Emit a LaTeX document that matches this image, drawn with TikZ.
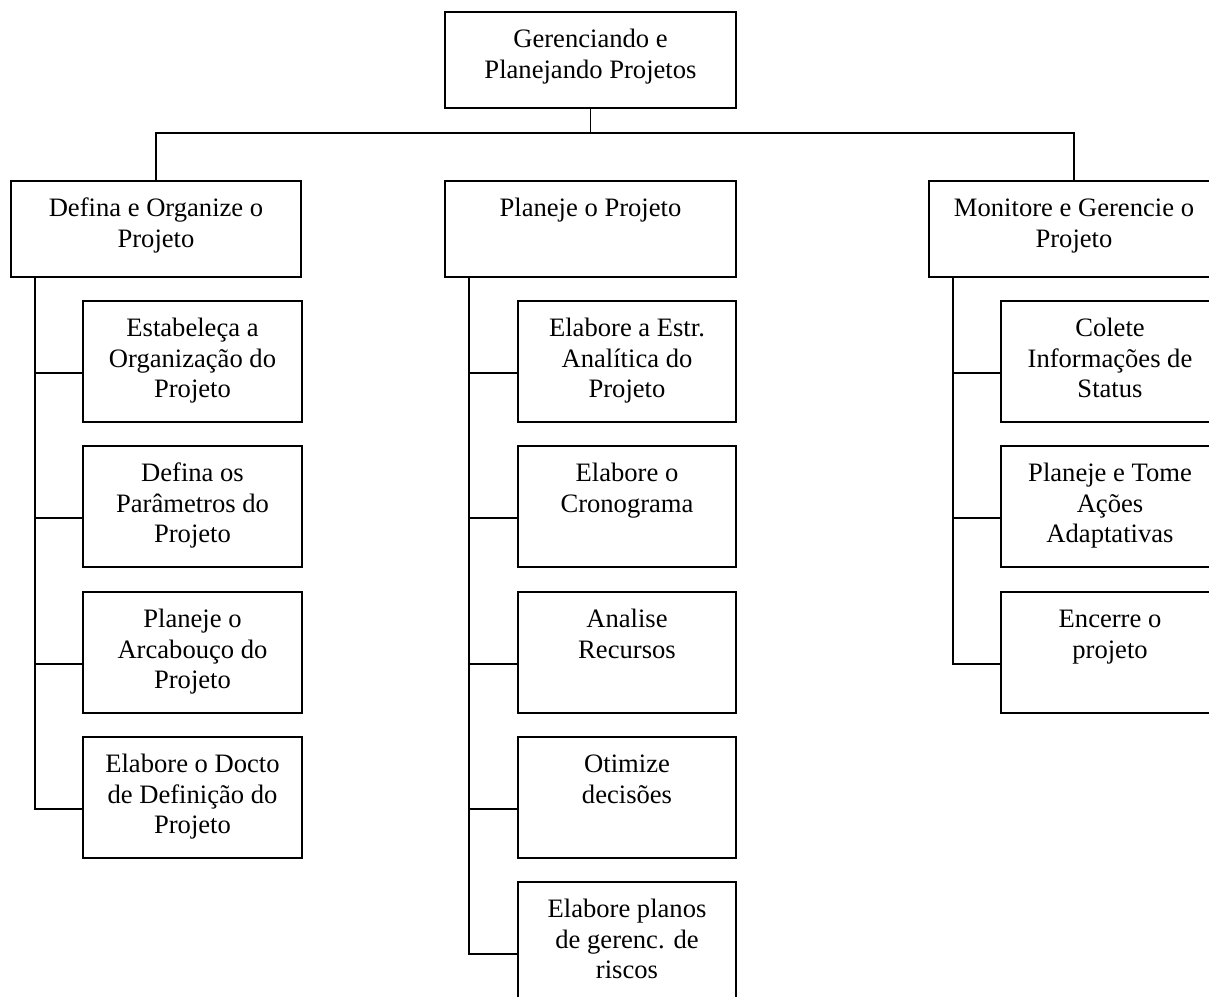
\documentclass[tikz,border=0pt]{standalone}
\usepackage{fontspec}
\setmainfont{Liberation Serif}
\newcommand\boxtext[3]{\parbox[t][#2][t]{#1}{\centering\vspace*{14.6pt}\strut#3\par}}
\tikzset{
  box/.style={draw, line width=1.5pt, inner sep=0pt, outer sep=0pt, anchor=north west,
    font=\fontsize{26.6}{30.5}\selectfont},
  wire/.style={line width=1.5pt}
}
\begin{document}
\begin{tikzpicture}[x=1pt,y=-1pt]
\useasboundingbox (0,0) rectangle (1209,996);
\clip (0,0) rectangle (1209,996);
\fill[white] (0,0) rectangle (1209,996);

% root
\node[box] (top) at (445,12) {\boxtext{291pt}{96pt}{Gerenciando e\\Planejando Projetos}};

% second level
\node[box] (def) at (11,181)  {\boxtext{290pt}{96pt}{Defina e Organize o\\Projeto}};
\node[box] (pla) at (445,181) {\boxtext{291pt}{96pt}{Planeje o Projeto}};
\node[box] (mon) at (929,181) {\boxtext{290pt}{96pt}{Monitore e Gerencie o\\Projeto}};

% children of "Defina e Organize o Projeto"
\node[box] (d1) at (83,301) {\boxtext{219pt}{121pt}{Estabeleça a\\Organização do\\Projeto}};
\node[box] (d2) at (83,446) {\boxtext{219pt}{121pt}{Defina os\\Parâmetros do\\Projeto}};
\node[box] (d3) at (83,592) {\boxtext{219pt}{121pt}{Planeje o\\Arcabouço do\\Projeto}};
\node[box] (d4) at (83,737) {\boxtext{219pt}{121pt}{Elabore o Docto\\de Definição do\\Projeto}};

% children of "Planeje o Projeto"
\node[box] (p1) at (518,301) {\boxtext{218pt}{121pt}{Elabore a Estr.\\Analítica do\\Projeto}};
\node[box] (p2) at (518,446) {\boxtext{218pt}{121pt}{Elabore o\\Cronograma}};
\node[box] (p3) at (518,592) {\boxtext{218pt}{121pt}{Analise\\Recursos}};
\node[box] (p4) at (518,737) {\boxtext{218pt}{121pt}{Otimize\\decisões}};
\node[box] (p5) at (518,882) {\boxtext{218pt}{121pt}{Elabore planos\\de gerenc. de\\riscos}};

% children of "Monitore e Gerencie o Projeto"
\node[box] (m1) at (1001,301) {\boxtext{218pt}{121pt}{Colete\\Informações de\\Status}};
\node[box] (m2) at (1001,446) {\boxtext{218pt}{121pt}{Planeje e Tome\\Ações\\Adaptativas}};
\node[box] (m3) at (1001,592) {\boxtext{218pt}{121pt}{Encerre o\\projeto}};

% root to second level
\coordinate (bar) at (top.south |- 0,133);
\draw[wire] (top.south) -- (bar);
\draw[wire] (def.north) -- (def.north |- bar) -- (mon.north |- bar) -- (mon.north);

% trunk start points below each second-level box
\foreach \p in {def,pla,mon}{
  \coordinate (\p-t) at ([xshift=24pt]\p.south west);
}
% branch points on the left side of each child
\foreach \c in {d1,d2,d3,d4,p1,p2,p3,p4,p5,m1,m2,m3}{
  \coordinate (\c-b) at ([yshift=-72pt]\c.north west);
}
% trunks
\draw[wire] (def-t) |- (d4-b);
\draw[wire] (pla-t) |- (p5-b);
\draw[wire] (mon-t) |- (m3-b);
% branches
\foreach \p/\c in {def/d1,def/d2,def/d3,pla/p1,pla/p2,pla/p3,pla/p4,mon/m1,mon/m2}{
  \draw[wire] (\c-b) -- (\c-b -| \p-t);
}
\end{tikzpicture}
\end{document}
